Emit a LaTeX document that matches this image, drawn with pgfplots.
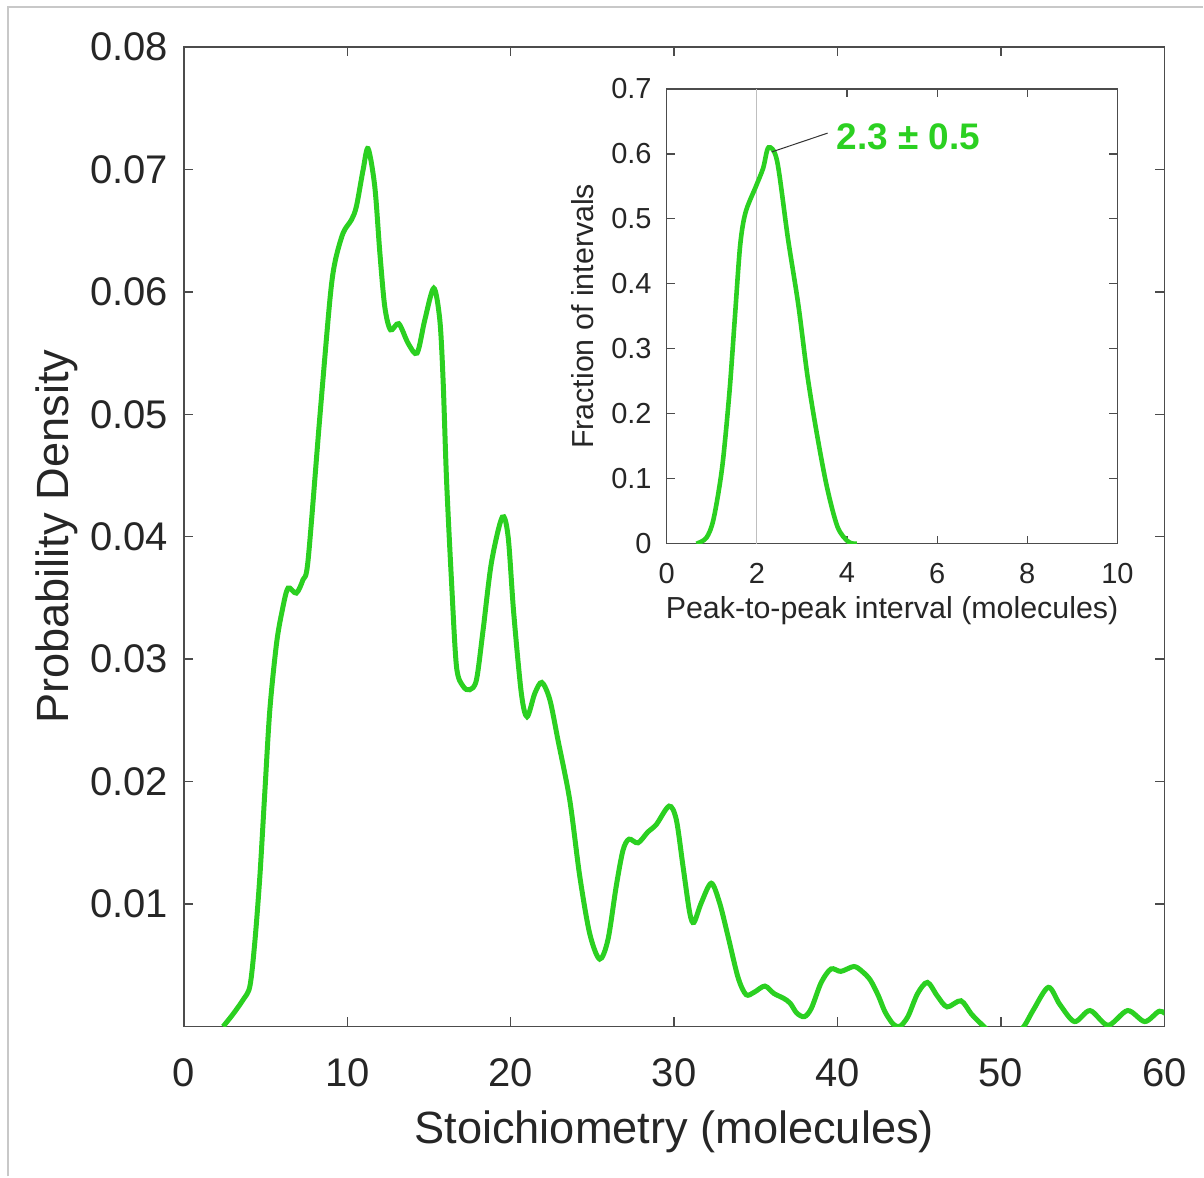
\documentclass[border=0pt]{standalone}
\usepackage{fontspec}
\setmainfont{Liberation Sans}
\usepackage{pgfplots}
\pgfplotsset{compat=1.18}

\definecolor{curvegreen}{RGB}{43,208,33}
\definecolor{txtgray}{RGB}{38,38,38}
\definecolor{framegray}{RGB}{200,200,200}

\begin{document}
\begin{tikzpicture}
% page size: 1 px of the reference = 0.5pt
\path (0,0) rectangle (602pt,588.5pt);
\draw[framegray, line width=0.6pt] (4pt,0pt) -- (4pt,585pt) -- (602pt,585pt);

% main plot
\begin{axis}[
    at={(92pt,75pt)}, anchor=south west,
    width=490.5pt, height=490pt, scale only axis,
    xmin=0, xmax=60, ymin=0, ymax=0.08,
    xtick={0,10,...,60},
    ytick={0.01,0.02,0.03,0.04,0.05,0.06,0.07,0.08},
    scaled y ticks=false,
    /pgf/number format/assume math mode=true,
    yticklabel style={/pgf/number format/fixed, /pgf/number format/precision=2,
        /pgf/number format/fixed zerofill, xshift=-4.5pt},
    xticklabel style={yshift=-12.5pt},
    tick align=inside,
    major tick length=4.5pt,
    axis line style={black!70, line width=0.7pt},
    tick style={black!70, line width=0.7pt},
    ticklabel style={font=\fontsize{20}{24}\selectfont, text=txtgray},
    label style={font=\fontsize{22.6}{27}\selectfont, text=txtgray},
    xlabel={Stoichiometry (molecules)},
    ylabel={Probability Density},
    xlabel style={at={(axis description cs:0.5,0)}, anchor=center, yshift=-52.5pt},
    ylabel style={at={(axis description cs:0,0.5)}, anchor=center, yshift=63.5pt},
    clip=true,
]
\addplot[curvegreen, line width=2.5pt, smooth, tension=0.5] coordinates {
(2.4,0) (3.0,0.0010) (3.63,0.0022) (4.04,0.0033) (4.34,0.0069) (4.65,0.0123)
(4.95,0.0191) (5.26,0.0259) (5.67,0.0313) (6.02,0.0340) (6.37,0.0358) (6.88,0.0354)
(7.29,0.0365) (7.6,0.0381) (8.3,0.0495) (8.93,0.0593) (9.24,0.0624) (9.74,0.0648)
(10.26,0.0659) (10.56,0.0670) (10.97,0.0700) (11.27,0.0717) (11.68,0.0686)
(11.99,0.0632) (12.29,0.0588) (12.64,0.0569) (13.15,0.0574) (13.72,0.0558)
(14.27,0.0550) (14.74,0.0577) (15.29,0.0603) (15.66,0.0577) (15.86,0.0528)
(16.07,0.0447) (16.37,0.0365) (16.68,0.0294) (17.08,0.0278) (17.49,0.0275)
(17.9,0.0283) (18.31,0.0324) (18.82,0.0379) (19.48,0.0416) (19.84,0.0400)
(20.18,0.0338) (20.65,0.0272) (21.0,0.0253) (21.47,0.0272) (21.9,0.0281)
(22.39,0.0267) (22.89,0.0234) (23.61,0.0185) (24.22,0.0123) (24.83,0.0076)
(25.44,0.0055) (25.95,0.0071) (26.46,0.0115) (26.87,0.0144) (27.24,0.0153)
(27.79,0.0150) (28.40,0.0159) (28.91,0.0165) (29.69,0.0180) (30.13,0.0169)
(30.54,0.0131) (30.95,0.0093) (31.21,0.0085) (31.66,0.0101) (32.27,0.0117)
(32.78,0.0101) (33.29,0.0074) (33.91,0.0040) (34.4,0.0026) (34.9,0.0028)
(35.55,0.0033) (36.1,0.0027) (36.7,0.0023) (37.1,0.0019) (37.5,0.0011)
(37.97,0.0008) (38.4,0.0015) (39.0,0.0036) (39.6,0.0047) (40.2,0.0045)
(41.0,0.0049) (41.5,0.0045) (42.0,0.0038) (42.5,0.0025) (42.9,0.0012)
(43.4,0.0002) (43.8,0.0) (44.3,0.0008) (44.9,0.0027) (45.5,0.0036) (46.1,0.0025)
(46.7,0.0016) (47.55,0.0021) (48.2,0.0010) (48.95,0.0) (49.6,-0.0008)
(50.2,-0.0010) (50.8,-0.0007) (51.4,0.0) (52.0,0.0014) (52.9,0.0032)
(53.6,0.0018) (54.5,0.0004) (55.45,0.0013) (56.55,0.0001) (57.75,0.0013)
(58.8,0.0004) (59.7,0.00125) (60.3,0.0008)
};
\end{axis}

% inset
\begin{axis}[
    at={(333.5pt,316.5pt)}, anchor=south west,
    width=225.5pt, height=227.5pt, scale only axis,
    xmin=0, xmax=10, ymin=0, ymax=0.7,
    xtick={0,2,...,10},
    ytick={0,0.1,...,0.7},
    /pgf/number format/assume math mode=true,
    yticklabel style={/pgf/number format/fixed, /pgf/number format/precision=1, xshift=-4pt},
    xticklabel style={yshift=-6pt},
    tick align=inside,
    major tick length=4pt,
    axis line style={black!70, line width=0.6pt},
    tick style={black!70, line width=0.6pt},
    axis background/.style={fill=white},
    ticklabel style={font=\fontsize{14.5}{17}\selectfont, text=txtgray},
    label style={font=\fontsize{15.2}{18}\selectfont, text=txtgray},
    xlabel={Peak-to-peak interval (molecules)},
    ylabel={Fraction of intervals},
    xlabel style={at={(axis description cs:0.5,0)}, anchor=center, yshift=-33.5pt},
    ylabel style={at={(axis description cs:0,0.5)}, anchor=center, yshift=42pt},
]
\addplot[black!25, line width=0.6pt] coordinates {(2,0) (2,0.7)};
\addplot[curvegreen, line width=2.3pt, smooth, tension=0.5] coordinates {
(0.66,0) (0.88,0.009) (1.04,0.038) (1.23,0.117) (1.39,0.231) (1.51,0.345)
(1.63,0.459) (1.75,0.51) (1.98,0.55) (2.14,0.578) (2.26,0.61) (2.45,0.589)
(2.69,0.47) (2.92,0.368) (3.12,0.26) (3.32,0.174) (3.55,0.089) (3.79,0.026)
(4.03,0.003) (4.22,0)
};
\draw[black!80, line width=0.5pt] (axis cs:2.33,0.603) -- (axis cs:3.57,0.632);
\node[anchor=west, text=curvegreen, font=\fontsize{18.5}{22}\selectfont\bfseries, inner sep=0pt]
    at (axis cs:3.76,0.627) {2.3 ± 0.5};
\end{axis}
\end{tikzpicture}
\end{document}
